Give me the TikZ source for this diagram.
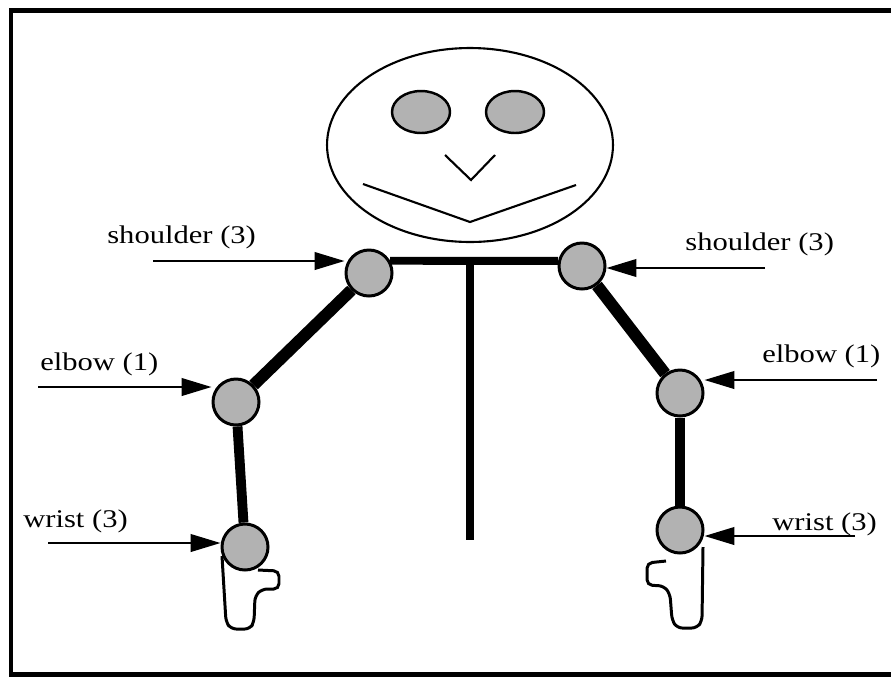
\documentclass[tikz,border=0pt]{standalone}
\usepackage{graphicx}
\usepackage{fontspec}
\setmainfont{Liberation Serif}
\usetikzlibrary{arrows.meta}

\tikzset{
  joint/.style={circle, draw, line width=1.7pt, fill=black!30, minimum size=0.92cm, inner sep=0pt},
  pointer/.style={line width=1.2pt, -{Triangle[length=17pt,width=10pt]}},
  lbl/.style={font=\fontsize{14.5}{18}\selectfont, inner sep=0pt, anchor=base west},
  hand/.style={line width=1.7pt, rounded corners=3pt, fill=white},
}
\newcommand{\wide}[1]{\scalebox{1.2}[1]{#1}}

\begin{document}
\begin{tikzpicture}[x=0.02cm, y=-0.02cm]
    \useasboundingbox (0,0) rectangle (891,677);
    % Frame
    \draw[line width=2.8pt] (891,10.5) -- (11,10.5) -- (11,674.5) -- (891,674.5);

    % Head
    \draw[line width=1.2pt] (470,145) ellipse [x radius=2.86cm, y radius=1.94cm];
    \draw[line width=1.4pt, fill=black!30] (421,112) ellipse [x radius=0.58cm, y radius=0.42cm];
    \draw[line width=1.4pt, fill=black!30] (515,112) ellipse [x radius=0.58cm, y radius=0.42cm];
    \draw[line width=1.2pt] (445,155) -- (471,180) -- (495,155);
    \draw[line width=1.2pt] (363,184) -- (470,222) -- (576,185);

    % Hands
    \draw[hand] (222,556) -- (226,622) -- (231,629) -- (250,629) -- (254,622) -- (255,596)
        -- (262,589) -- (279,589) -- (279,571) -- (258,570);
    \draw[hand] (703,547) -- (702,621) -- (697,628) -- (677,628) -- (672,620) -- (670,594)
        -- (664,586) -- (647,585) -- (647,563) -- (666,561);

    % Joints
    \node[joint] (lsh) at (369,273) {};
    \node[joint] (rsh) at (582,266) {};
    \node[joint] (lel) at (236,402) {};
    \node[joint] (rel) at (680,393) {};
    \node[joint] (lwr) at (245,547) {};
    \node[joint] (rwr) at (680,530) {};

    % Body and limbs
    \coordinate (neck) at (470,261);
    \coordinate (hip) at (470,540);
    \draw[line width=4.5pt] (lsh.30) -- (rsh.168);
    \draw[line width=4.8pt] (neck) -- (hip);
    \draw[line width=6.8pt] (lsh) -- (lel);
    \draw[line width=6.8pt] (rsh) -- (rel);
    \draw[line width=5.6pt] (lel) -- (lwr);
    \draw[line width=5.6pt] (rel) -- (rwr);

    % Labels
    \node[lbl] (lshl) at (107,243) {\wide{shoulder (3)}};
    \node[lbl] (rshl) at (685,250) {\wide{shoulder (3)}};
    \node[lbl] (lell) at (40,370) {\wide{elbow (1)}};
    \node[lbl] (rell) at (762,362) {\wide{elbow (1)}};
    \node[lbl] (lwrl) at (23,527) {\wide{wrist (3)}};
    \node[lbl] (rwrl) at (772,530) {\wide{wrist (3)}};

    % Arrows
    \coordinate (lsa) at (153,261);
    \coordinate (rsa) at (765,268);
    \coordinate (lea) at (38,387);
    \coordinate (rea) at (877,380);
    \coordinate (lwa) at (48,543);
    \coordinate (rwa) at (855,536);
    \draw[pointer] (lsa) -- (lsa -| lsh.west);
    \draw[pointer] (rsa) -- (rsa -| rsh.east);
    \draw[pointer] (lea) -- (lea -| lel.west);
    \draw[pointer] (rea) -- (rea -| rel.east);
    \draw[pointer] (lwa) -- (lwa -| lwr.west);
    \draw[pointer] (rwa) -- (rwa -| rwr.east);
\end{tikzpicture}
\end{document}
